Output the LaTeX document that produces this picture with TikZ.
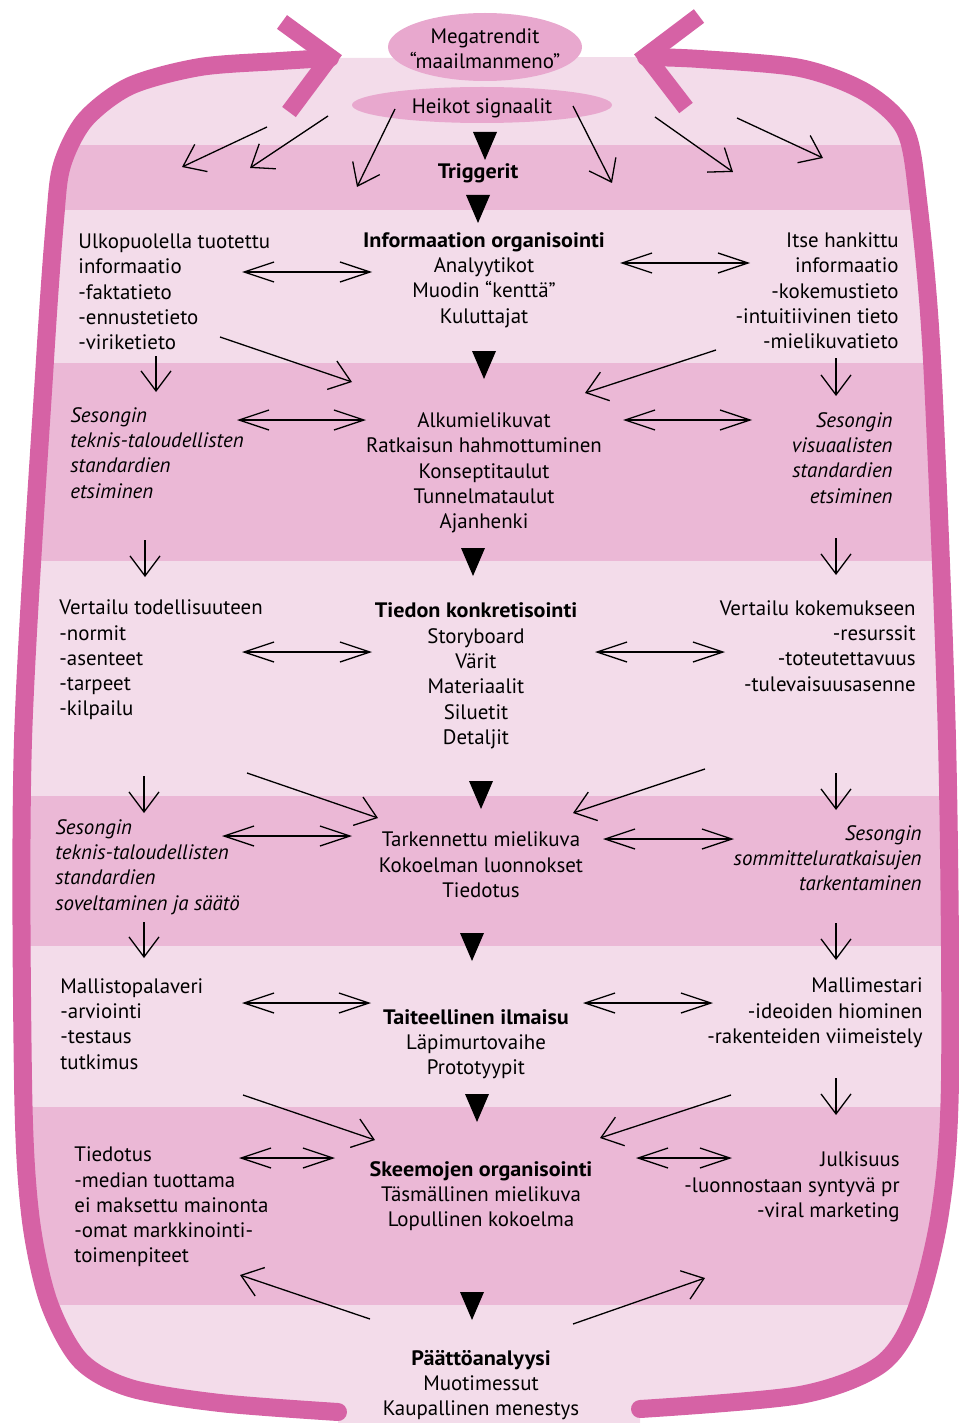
\documentclass[tikz,border=0pt]{standalone}
\usepackage{fontspec}
\setmainfont{PT Sans}
\usetikzlibrary{arrows.meta}

\definecolor{rimpink}{RGB}{214,98,165}
\definecolor{bandpink}{RGB}{235,184,214}
\definecolor{lightpink}{RGB}{243,220,234}
\definecolor{ovalpink}{RGB}{232,168,206}
\newcommand\txtfont{\fontsize{10.45}{12.65}\selectfont}
\newcommand\hd[1]{{\bfseries\addfontfeature{FakeStretch=1.06}#1}}

\begin{document}
\begin{tikzpicture}[x=0.5pt, y=-0.5pt,
    txt/.style={inner sep=0pt, font=\txtfont},
    lft/.style={txt, anchor=west, align=left},
    rgt/.style={txt, anchor=east, align=right},
    mid/.style={txt, align=center},
    ital/.style={font=\txtfont\itshape},
    rim/.style={draw=rimpink, line width=9pt, line cap=round},
    flow/.style={line width=0.65pt, -{Straight Barb[length=10pt,width=15pt]}},
    twoway/.style={line width=0.65pt, {Straight Barb[length=15pt,width=10pt]}-{Straight Barb[length=15pt,width=10pt]}}]
    \useasboundingbox (0,0) rectangle (958,1423);

    % Background and bands
    \begin{scope}
        \clip plot[smooth] coordinates {(330,58) (280,61) (200,67) (130,86) (85,120) (62,165) (55,220) (45,360) (23,740) (23,1080) (30,1213) (48,1300) (80,1360) (130,1388) (220,1403) (338,1412)}
            -- (338,1430) -- (640,1430)
            -- plot[smooth] coordinates {(640,1409) (800,1395) (880,1365) (915,1313) (940,1213) (950,1080) (947,740) (932,360) (918,200) (905,130) (865,92) (800,68) (700,59) (646,57)}
            -- cycle;
        \fill[lightpink] (0,0) rectangle (958,1430);
        \foreach \ya/\yb in {145/210, 363/561, 796/946, 1107/1305}
            \fill[bandpink] (0,\ya) rectangle (958,\yb);
    \end{scope}

    % Frame
    \draw[rim] plot[smooth] coordinates {(330,58) (280,61) (200,67) (130,86) (85,120) (62,165) (55,220) (45,360) (23,740) (23,1080) (30,1213) (48,1300) (80,1360) (130,1388) (220,1403) (338,1412)};
    \draw[rim] plot[smooth] coordinates {(640,1409) (800,1395) (880,1365) (915,1313) (940,1213) (950,1080) (947,740) (932,360) (918,200) (905,130) (865,92) (800,68) (700,59) (646,57)};
    \draw[rim, line cap=butt, line join=miter, line width=8.5pt] (282,22) -- (330,57) -- (289,112); % left head
    \draw[rim, line cap=butt, line join=miter, line width=8.5pt] (699,16) -- (646,56) -- (686,108); % right head

    % Ovals
    \fill[ovalpink] (485,47) ellipse [x radius=97, y radius=34];
    \fill[ovalpink] (482,105) ellipse [x radius=130, y radius=18];

    % Triangles
    \foreach \tx/\ty in {485/146, 478/209, 484/365, 473/562, 481/795, 472/947, 477/1108, 472/1306}
        \fill (\tx-12,\ty-14) -- (\tx+12,\ty-14) -- (\tx,\ty+14) -- cycle;

    % Define texts
    \node[mid] (mega) at (485,49) {Megatrendit\\“maailmanmeno”};
    \node[mid] (heikot) at (482,108) {Heikot signaalit};
    \node[mid] (trig) at (478,173) {\hd{Triggerit}};

    \node[lft] (ulko) at (78,292) {Ulkopuolella tuotettu\\informaatio\\-faktatieto\\-ennustetieto\\-viriketieto};
    \node[mid] (org) at (484,280) {\hd{Informaation organisointi}\\Analyytikot\\Muodin “kenttä”\\Kuluttajat};
    \node[rgt] (itse) at (899,291) {Itse hankittu\\informaatio\\-kokemustieto\\-intuitiivinen tieto\\-mielikuvatieto};

    \node[lft, ital] (sesL1) at (70,453) {Sesongin\\teknis-taloudellisten\\standardien\\etsiminen};
    \node[mid] (alku) at (484,473) {Alkumielikuvat\\Ratkaisun hahmottuminen\\Konseptitaulut\\Tunnelmataulut\\Ajanhenki};
    \node[rgt, ital] (sesR1) at (893,458) {Sesongin\\visuaalisten\\standardien\\etsiminen};

    \node[lft] (vertT) at (59,660) {Vertailu todellisuuteen\\-normit\\-asenteet\\-tarpeet\\-kilpailu};
    \node[mid] (tiedon) at (476,676) {\hd{Tiedon konkretisointi}\\Storyboard\\Värit\\Materiaalit\\Siluetit\\Detaljit};
    \node[rgt] (vertK) at (916,646) {Vertailu kokemukseen\\-resurssit\\-toteutettavuus\\-tulevaisuusasenne};

    \node[lft, ital] (sesL2) at (55,867) {Sesongin\\teknis-taloudellisten\\standardien\\soveltaminen ja säätö};
    \node[mid] (tark) at (481,865) {Tarkennettu mielikuva\\Kokoelman luonnokset\\Tiedotus};
    \node[rgt, ital] (sesR2) at (922,858) {Sesongin\\sommitteluratkaisujen\\tarkentaminen};

    \node[lft] (mallisto) at (60,1024) {Mallistopalaveri\\-arviointi\\-testaus\\tutkimus};
    \node[mid] (taite) at (476,1044) {\hd{Taiteellinen ilmaisu}\\Läpimurtovaihe\\Prototyypit};
    \node[rgt] (mallim) at (923,1013) {Mallimestari\\-ideoiden hiominen\\-rakenteiden viimeistely};

    \node[lft] (tiedotus) at (74,1207) {Tiedotus\\-median tuottama\\ei maksettu mainonta\\-omat markkinointi-\\toimenpiteet};
    \node[mid] (skeem) at (481,1196) {\hd{Skeemojen organisointi}\\Täsmällinen mielikuva\\Lopullinen kokoelma};
    \node[rgt] (julk) at (900,1187) {Julkisuus\\-luonnostaan syntyvä pr\\-viral marketing};

    \node[mid] (paatto) at (481,1385) {\hd{Päättöanalyysi}\\Muotimessut\\Kaupallinen menestys};

    % One-way arrows
    \foreach \n/\xa/\ya/\xb/\yb in {t1/267/127/182/167, t2/328/116/250/168, t3/395/109/357/187,
            t4/573/106/612/183, t5/655/117/733/172, t6/737/118/823/158,
            g1/220/337/352/382, g2/716/350/585/393, g3/247/773/378/818, g4/705/769/573/813,
            g5/243/1095/375/1140, g6/731/1095/600/1138, g7/370/1319/240/1275, g8/573/1324/705/1278,
            v1/156/356/156/392, v2/836/358/836/396, v3/145/540/145/577, v4/836/538/836/575,
            v5/144/776/144/813, v6/836/773/836/810, v7/144/922/144/958, v8/836/923/836/960,
            v9/836/1078/836/1115} {
        \coordinate (\n-s) at (\xa,\ya);
        \coordinate (\n-e) at (\xb,\yb);
        \draw[flow] (\n-s) -- (\n-e);
    }

    % Two-way arrows
    \foreach \n/\xa/\xb/\y in {d1/242/372/272, d2/620/750/263, d3/237/366/420, d4/623/752/420,
            d5/242/372/652, d6/595/725/652, d7/222/352/836, d8/603/734/839,
            d9/242/371/1003, d10/583/713/1003, d11/239/335/1158, d12/636/732/1158} {
        \coordinate (\n-l) at (\xa,\y);
        \coordinate (\n-r) at (\xb,\y);
        \draw[twoway] (\n-l) -- (\n-r);
    }
\end{tikzpicture}
\end{document}
